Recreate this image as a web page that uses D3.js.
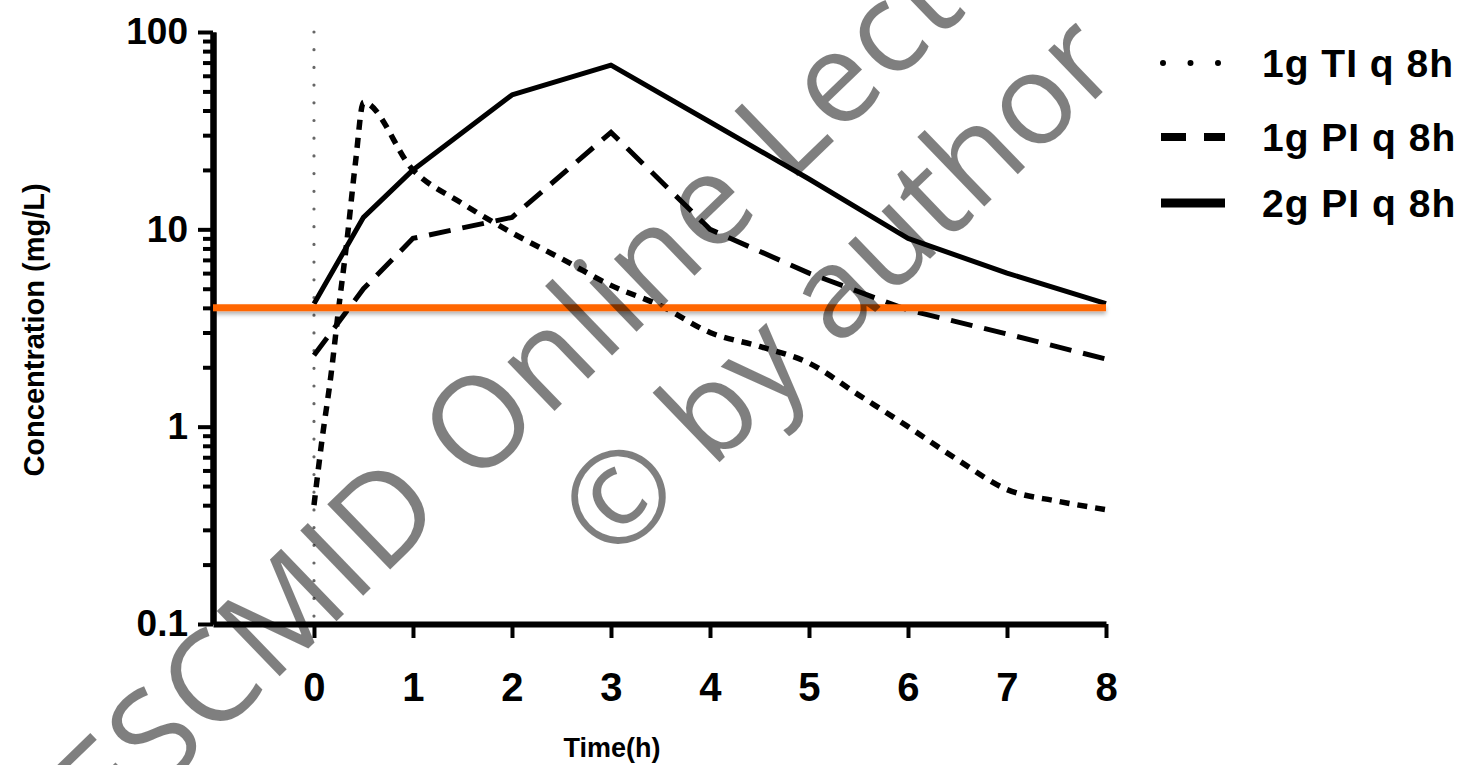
<!DOCTYPE html>
<html>
<head>
<meta charset="utf-8">
<script src="https://cdn.jsdelivr.net/npm/d3@7"></script>
<style>
  body { margin: 0; background: #fff; }
  text { font-family: "Liberation Sans", Arial, sans-serif; font-weight: bold; }
</style>
</head>
<body>
<div id="chart"></div>
<script>
// Data (time in h, concentration in mg/L)
const tiTime  = [0, 0.08, 0.17, 0.25, 0.33, 0.42, 0.5, 1, 1.5, 2, 2.5, 3, 3.5, 4, 4.5, 5, 5.5, 6, 6.5, 7, 7.5, 8];
const tiConc  = [0.4, 0.85, 1.8, 4, 8.5, 22, 44, 20, 13.5, 9.6, 7.1, 5.2, 4.1, 3.0, 2.55, 2.1, 1.45, 1.0, 0.68, 0.48, 0.42, 0.38];
const pi1Time = [0, 0.5, 1, 2, 3, 4, 5, 6, 7, 8];
const pi1Conc = [2.3, 5, 9, 11.5, 31, 10, 6, 3.9, 2.95, 2.2];
const pi2Time = [0, 0.5, 1, 2, 3, 4, 5, 6, 7, 8];
const pi2Conc = [4.2, 11.5, 20, 48, 68, 35, 18, 9, 6, 4.2];
const breakpoint = 4;

const seriesNames = ["1g TI q 8h", "1g PI q 8h", "2g PI q 8h"];
const xTicks = [0, 1, 2, 3, 4, 5, 6, 7, 8];
const yMajor = [0.1, 1, 10, 100];
const yMinor = [0.2, 0.3, 0.4, 0.5, 0.6, 0.7, 0.8, 0.9, 2, 3, 4, 5, 6, 7, 8, 9, 20, 30, 40, 50, 60, 70, 80, 90];
const watermark = ["ESCMID Online Lecture Library", "\u00a9 by author"];

const W = 1470, H = 765;

const svg = d3.select("#chart")
    .append("svg")
    .attr("width", W)
    .attr("height", H);

// drop shadow for the orange line (user space, the line has a zero-height box)
const defs = svg.append("defs");
const f = defs.append("filter").attr("id", "shadow")
    .attr("filterUnits", "userSpaceOnUse")
    .attr("x", 0).attr("y", 0).attr("width", W).attr("height", H);
f.append("feDropShadow").attr("dx", 0).attr("dy", 3).attr("stdDeviation", 2)
    .attr("flood-color", "#000").attr("flood-opacity", 0.3);

const x = d3.scaleLinear().domain([-1.02, 8]).range([213, 1106]);
const y = d3.scaleLog().domain([0.1, 100]).range([624, 32]);

// vertical dotted line at t = 0
svg.append("line")
    .attr("x1", x(0)).attr("x2", x(0))
    .attr("y1", y(100)).attr("y2", y(0.1))
    .attr("stroke", "#666")
    .attr("stroke-width", 3.2)
    .attr("stroke-linecap", "round")
    .attr("stroke-dasharray", "0,17.7");

const line = d3.line()
    .x(d => x(d[0]))
    .y(d => y(d[1]));

const tiData = tiTime.map((t, i) => [t, tiConc[i]]);
const pi1Data = pi1Time.map((t, i) => [t, pi1Conc[i]]);
const pi2Data = pi2Time.map((t, i) => [t, pi2Conc[i]]);

svg.append("path")
    .datum(tiData)
    .attr("d", line.curve(d3.curveMonotoneX))
    .attr("fill", "none")
    .attr("stroke", "#000")
    .attr("stroke-width", 5.5)
    .attr("stroke-dasharray", "10,8");

svg.append("path")
    .datum(pi1Data)
    .attr("d", line.curve(d3.curveLinear))
    .attr("fill", "none")
    .attr("stroke", "#000")
    .attr("stroke-width", 5)
    .attr("stroke-dasharray", "22,12");

svg.append("path")
    .datum(pi2Data)
    .attr("d", line.curve(d3.curveLinear))
    .attr("fill", "none")
    .attr("stroke", "#000")
    .attr("stroke-width", 5)
    .attr("stroke-linejoin", "round");

// axes
const yAxisMinor = svg.append("g")
    .attr("transform", `translate(${x(-1.02)},0)`)
    .call(d3.axisLeft(y).tickValues(yMinor).tickSize(10).tickSizeOuter(0).tickFormat(""));
const yAxis = svg.append("g")
    .attr("transform", `translate(${x(-1.02)},0)`)
    .call(d3.axisLeft(y).tickValues(yMajor).tickSize(15).tickSizeOuter(0).tickPadding(10)
        .tickFormat(d => d3.format("~g")(d)));
const xAxis = svg.append("g")
    .attr("transform", `translate(0,${y(0.1)})`)
    .call(d3.axisBottom(x).tickValues(xTicks).tickSize(14).tickSizeOuter(0).tickPadding(35));

[yAxisMinor, yAxis, xAxis].forEach(g => {
    g.select(".domain").attr("stroke", "#000").attr("stroke-width", 6);
    g.selectAll(".tick line").attr("stroke", "#000").attr("stroke-width", 4);
});
yAxis.selectAll(".tick text").attr("font-size", 37).attr("fill", "#000");
xAxis.selectAll(".tick text").attr("font-size", 40).attr("fill", "#000");

// axis titles
svg.append("text")
    .attr("x", 612).attr("y", 757)
    .attr("text-anchor", "middle")
    .attr("font-size", 27)
    .text("Time(h)");

svg.append("text")
    .attr("transform", "translate(44,330) rotate(-90)")
    .attr("text-anchor", "middle")
    .attr("font-size", 29)
    .text("Concentration (mg/L)");

// breakpoint line
svg.append("line")
    .attr("x1", x(-1.02)).attr("x2", x(8))
    .attr("y1", y(breakpoint)).attr("y2", y(breakpoint))
    .attr("stroke", "#ff6600")
    .attr("stroke-width", 7)
    .attr("filter", "url(#shadow)");

// legend
const legendY = [63, 137, 203];
const legendDash = ["0,27.5", "25,18", null];
const legendWidth = [6, 8, 9];
const legend = svg.selectAll(".legend")
    .data(seriesNames)
    .enter().append("g")
    .attr("class", "legend")
    .attr("transform", (d, i) => `translate(0,${legendY[i]})`);

legend.append("line")
    .attr("x1", (d, i) => i === 0 ? 1163 : 1161)
    .attr("x2", 1225)
    .attr("stroke", "#000")
    .attr("stroke-width", (d, i) => legendWidth[i])
    .attr("stroke-linecap", (d, i) => i === 0 ? "round" : "butt")
    .attr("stroke-dasharray", (d, i) => legendDash[i]);

legend.append("text")
    .attr("x", 1262)
    .attr("y", 14)
    .attr("font-size", 39)
    .attr("letter-spacing", 1)
    .text(d => d);

// watermark
const wmPos = [[108, 842], [612, 566]];
svg.selectAll(".wm")
    .data(watermark)
    .enter().append("text")
    .attr("class", "wm")
    .attr("transform", (d, i) => `translate(${wmPos[i][0]},${wmPos[i][1]}) rotate(-44)`)
    .style("font-family", "'Open Sans', sans-serif")
    .style("font-weight", "normal")
    .attr("font-size", 127)
    .attr("letter-spacing", (d, i) => i === 0 ? 2 : 0)
    .attr("fill", "#000")
    .attr("fill-opacity", 0.5)
    .text(d => d);
</script>
</body>
</html>
